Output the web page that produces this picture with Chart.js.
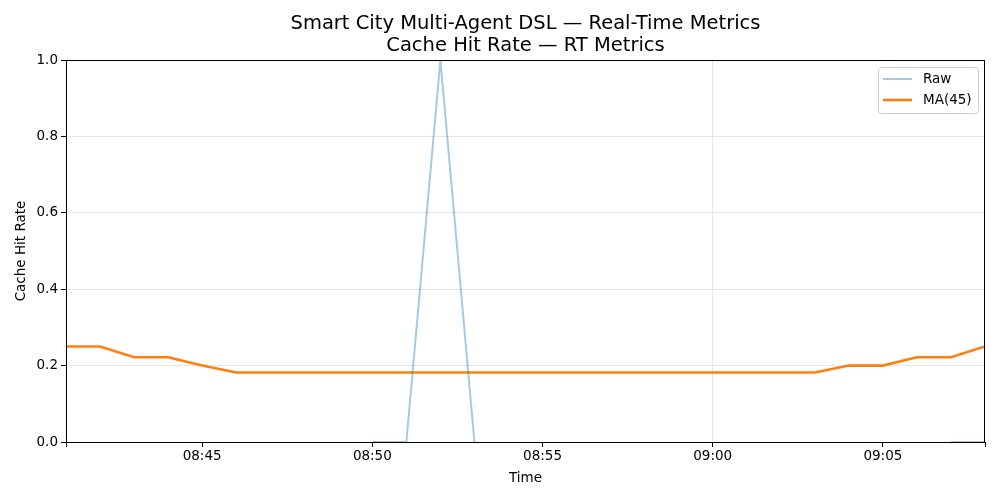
<!DOCTYPE html>
<html>
<head>
<meta charset="utf-8">
<script src="https://cdn.jsdelivr.net/npm/chart.js@4"></script>
<style>
  html, body { margin: 0; padding: 0; background: #fff; }
  #wrap { width: 1000px; height: 500px; }
</style>
</head>
<body>
<div id="wrap"><canvas id="chart"></canvas></div>
<script>
// data
const times = [
  '08:41', '08:42', '08:43', '08:44', '08:45', '08:46', '08:47', '08:48', '08:49', '08:50',
  '08:51', '08:52', '08:53', '08:54', '08:55', '08:56', '08:57', '08:58', '08:59', '09:00',
  '09:01', '09:02', '09:03', '09:04', '09:05', '09:06', '09:07', '09:08',
];
const rawValues = [
  null, null, null, null, null, null, null, null, null, 0,
  0, 1, 0, null, null, null, null, null, null, null,
  null, null, null, null, null, null, 0, 0,
];
const maValues = [
  0.25, 0.25, 0.222, 0.222, 0.2, 0.182, 0.182, 0.182, 0.182, 0.182,
  0.182, 0.182, 0.182, 0.182, 0.182, 0.182, 0.182, 0.182, 0.182, 0.182,
  0.182, 0.182, 0.182, 0.2, 0.2, 0.222, 0.222, 0.25,
];
const xTickLabels = ['08:45', '08:50', '08:55', '09:00', '09:05'];
const gridTimes = ['09:00'];
const titleLines = ['Smart City Multi-Agent DSL — Real-Time Metrics', 'Cache Hit Rate — RT Metrics'];

const FONT = 'DejaVu Sans';

function toMinutes(t) {
  const [h, m] = t.split(':').map(Number);
  return h * 60 + m;
}

function fromMinutes(v) {
  const h = Math.floor(v / 60);
  const m = Math.round(v - h * 60);
  return String(h).padStart(2, '0') + ':' + String(m).padStart(2, '0');
}

const xs = times.map(toMinutes);
const xMin = xs[0];
const xMax = xs[xs.length - 1];
const labelTicks = xTickLabels.map(toMinutes);
const gridTicks = gridTimes.map(toMinutes);

const rawData = xs.map((x, i) => ({ x: x, y: rawValues[i] }));
const maData = xs.map((x, i) => ({ x: x, y: maValues[i] }));

// title centred on the plot area, frame and in-axes legend like matplotlib
const frameAndText = {
  id: 'frameAndText',
  afterDraw(chart) {
    const { ctx, chartArea: a } = chart;
    ctx.save();

    ctx.fillStyle = '#000';
    ctx.font = '19.5px "' + FONT + '"';
    ctx.textAlign = 'center';
    ctx.textBaseline = 'middle';
    const cx = (a.left + a.right) / 2;
    ctx.fillText(titleLines[0], cx, 24);
    ctx.fillText(titleLines[1], cx, 46);

    ctx.strokeStyle = '#000';
    ctx.lineWidth = 1;
    ctx.strokeRect(a.left + 0.5, a.top + 0.5, a.right - a.left - 1, a.bottom - a.top);

    const items = chart.data.datasets;
    const bx = a.right - 107, by = a.top + 7, bw = 100, bh = 46;
    ctx.fillStyle = 'rgba(255,255,255,0.8)';
    ctx.strokeStyle = '#cccccc';
    ctx.beginPath();
    ctx.roundRect(bx + 0.5, by + 0.5, bw, bh, 3);
    ctx.fill();
    ctx.stroke();

    ctx.font = '13.5px "' + FONT + '"';
    ctx.textAlign = 'left';
    items.forEach((ds, i) => {
      const y = by + 12 + i * 21;
      ctx.strokeStyle = ds.borderColor;
      ctx.lineWidth = ds.borderWidth;
      ctx.beginPath();
      ctx.moveTo(bx + 5, y);
      ctx.lineTo(bx + 34, y);
      ctx.stroke();
      ctx.fillStyle = '#000';
      ctx.fillText(ds.label, bx + 45, y);
    });

    ctx.restore();
  },
};

new Chart(document.getElementById('chart'), {
  type: 'line',
  data: {
    datasets: [
      {
        label: 'Raw',
        data: rawData,
        borderColor: 'rgba(31,119,180,0.4)',
        borderWidth: 2,
        pointRadius: 0,
        spanGaps: false,
        tension: 0,
      },
      {
        label: 'MA(45)',
        data: maData,
        borderColor: '#ff7f0e',
        borderWidth: 2.6,
        pointRadius: 0,
        tension: 0,
      },
    ],
  },
  plugins: [frameAndText],
  options: {
    responsive: true,
    maintainAspectRatio: false,
    animation: false,
    layout: { padding: { top: 60, right: 15, left: 0, bottom: 0 } },
    plugins: {
      legend: { display: false },
      title: { display: false },
      tooltip: { enabled: false },
    },
    scales: {
      x: {
        type: 'linear',
        min: xMin,
        max: xMax,
        afterBuildTicks: (scale) => {
          scale.ticks = [xMin, ...labelTicks, xMax].map((v) => ({ value: v }));
        },
        afterFit: (scale) => { scale.height = 58; },
        grid: {
          color: (c) => (c.tick && gridTicks.includes(c.tick.value) ? '#e6e6e6' : 'rgba(0,0,0,0)'),
          tickColor: '#000',
          tickLength: 5,
          drawOnChartArea: true,
        },
        border: { color: '#000', width: 1 },
        ticks: {
          color: '#000',
          padding: 1,
          maxRotation: 0,
          autoSkip: false,
          font: { family: FONT, size: 13.5 },
          callback: (v) => (labelTicks.includes(v) ? fromMinutes(v) : ''),
        },
        title: {
          display: true,
          text: 'Time',
          color: '#000',
          font: { family: FONT, size: 13.5 },
          padding: { top: 4, bottom: 13 },
        },
      },
      y: {
        min: 0,
        max: 1,
        afterFit: (scale) => { scale.width = 66; },
        grid: {
          color: (c) => (c.tick && c.tick.value > 0 && c.tick.value < 1 ? '#e6e6e6' : 'rgba(0,0,0,0)'),
          tickColor: '#000',
          tickLength: 5,
        },
        border: { color: '#000', width: 1 },
        ticks: {
          stepSize: 0.2,
          color: '#000',
          padding: 3,
          font: { family: FONT, size: 13.5 },
          callback: (v) => Number(v).toFixed(1),
        },
        title: {
          display: true,
          text: 'Cache Hit Rate',
          color: '#000',
          font: { family: FONT, size: 13.5 },
          padding: { top: 13, bottom: 4 },
        },
      },
    },
  },
});
</script>
</body>
</html>
